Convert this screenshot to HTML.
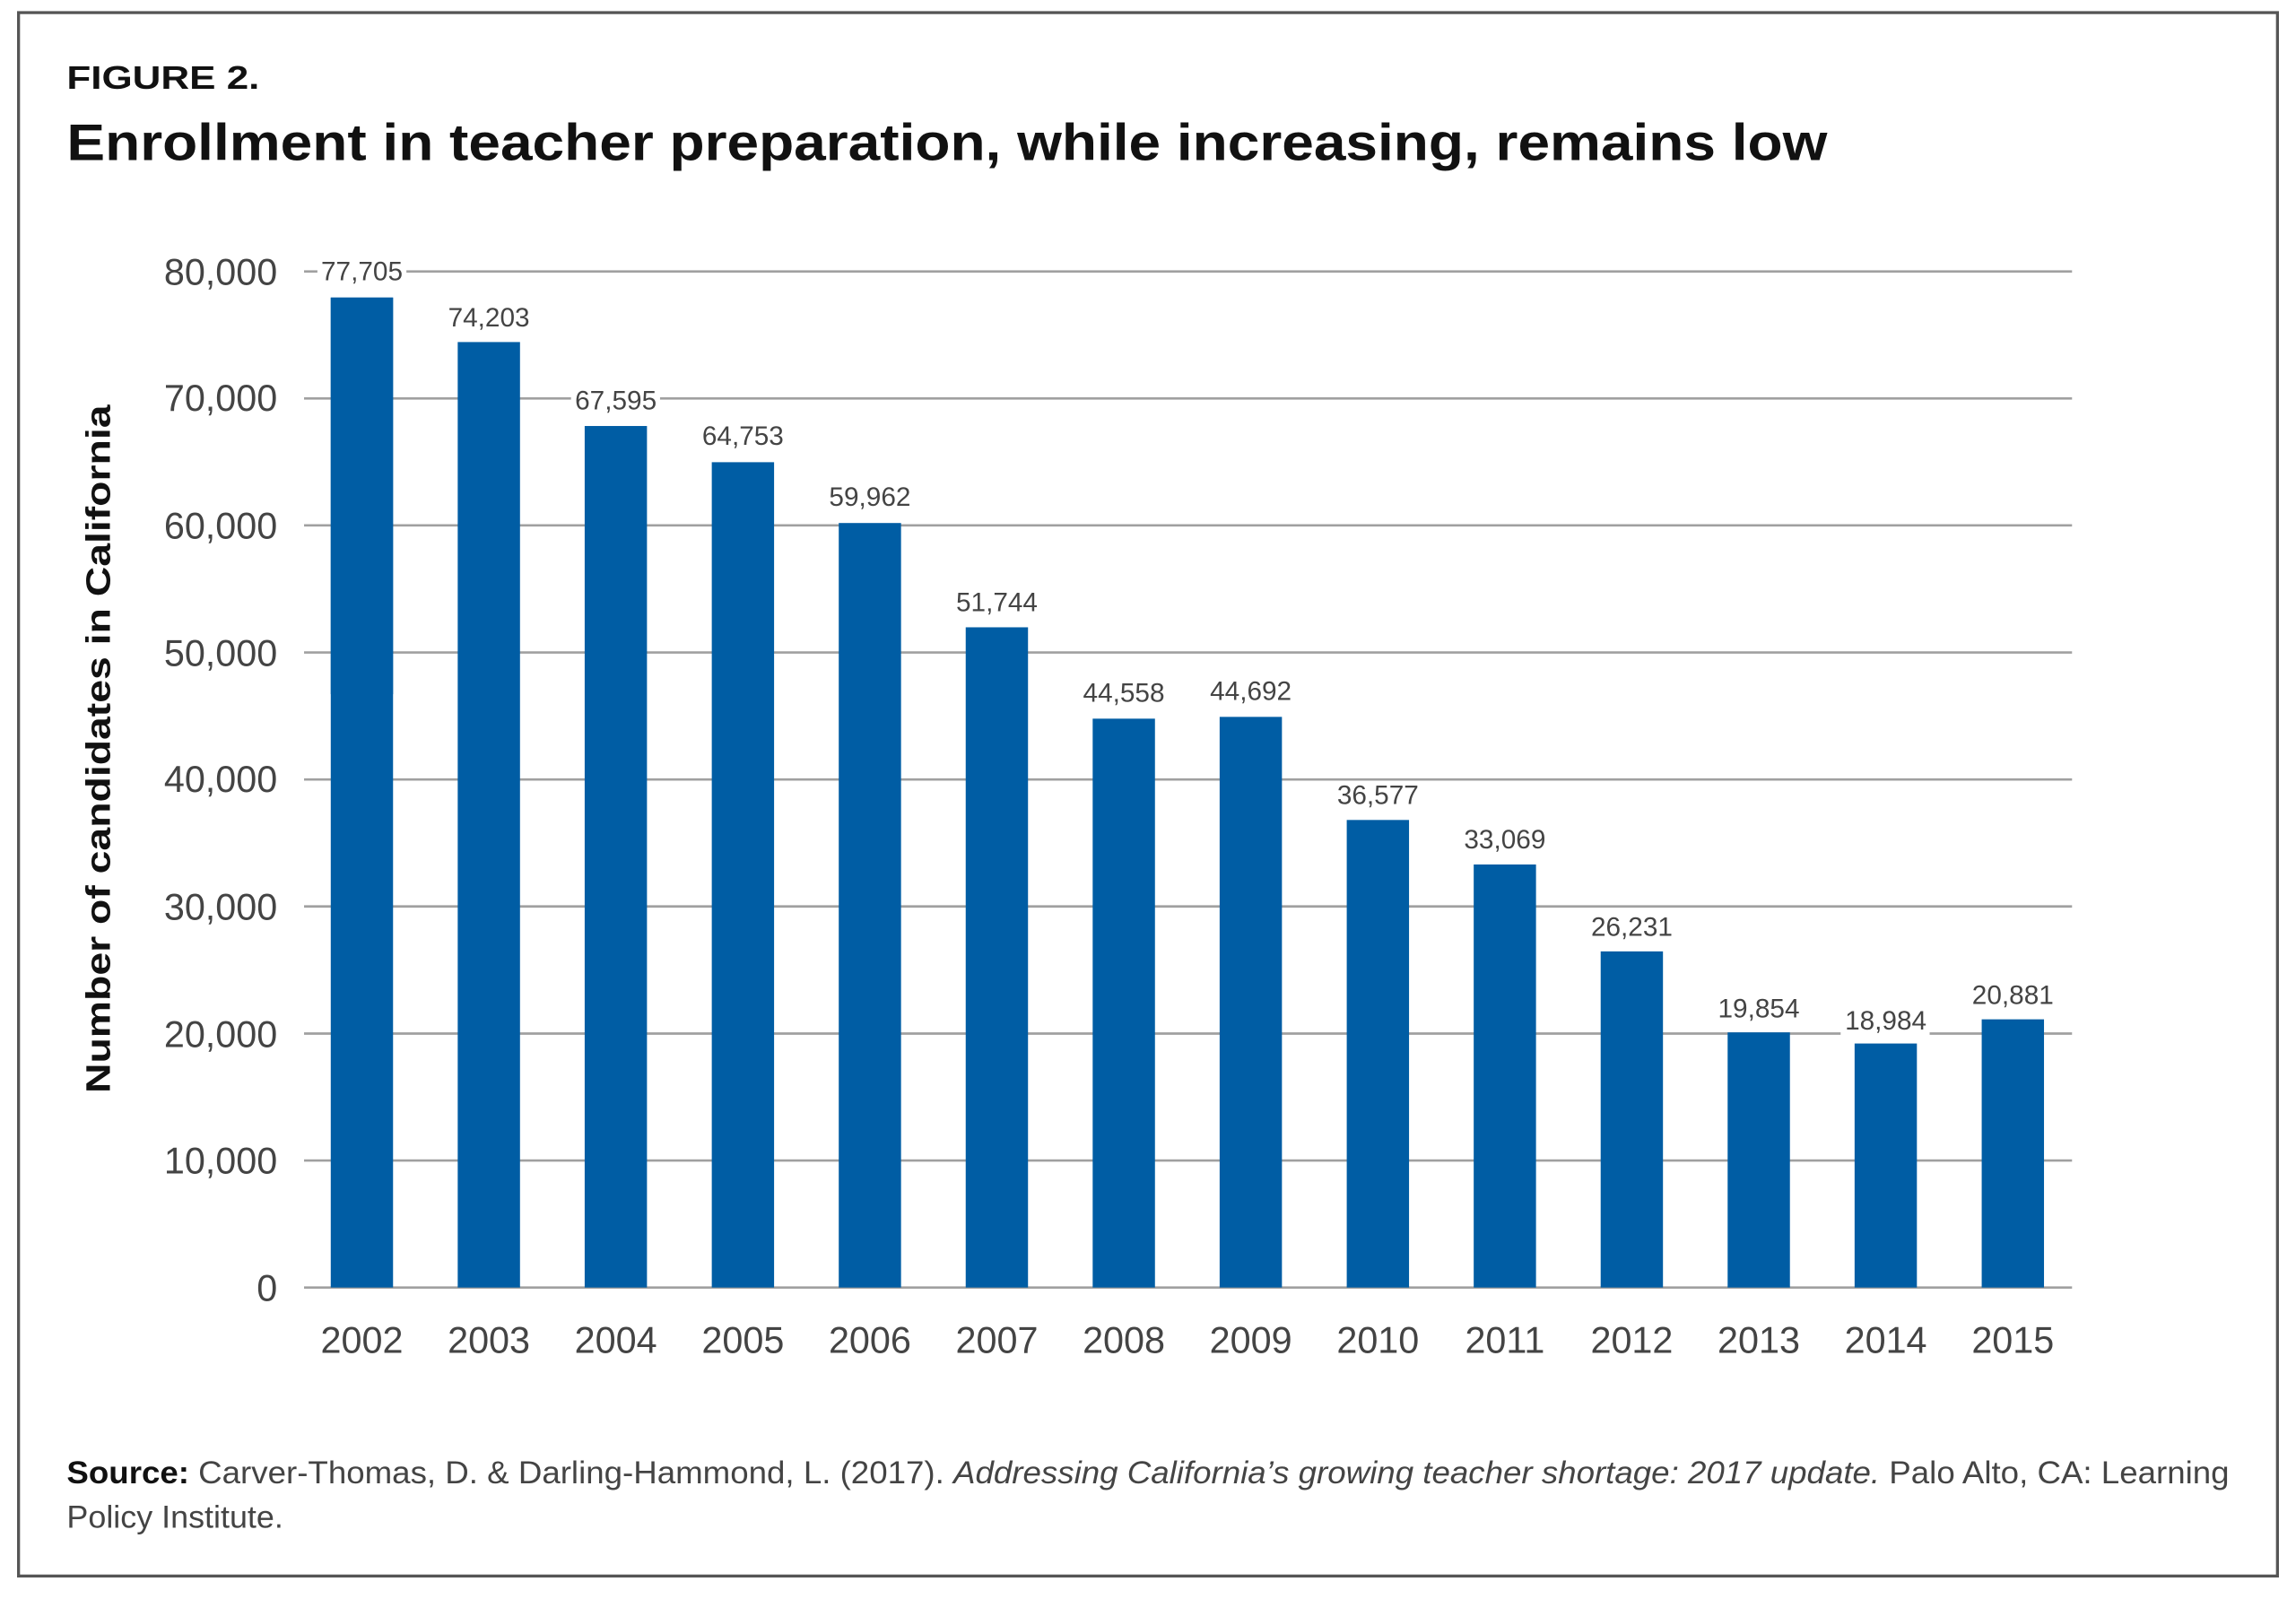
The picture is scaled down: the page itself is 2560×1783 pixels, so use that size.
<!DOCTYPE html>
<html><head><meta charset="utf-8"><style>
html,body{margin:0;padding:0;background:#fff;width:2560px;height:1783px;overflow:hidden}
svg{display:block}
text{font-family:"Liberation Sans",sans-serif}
</style></head><body>
<svg width="2560" height="1783" viewBox="0 0 1548 1078" preserveAspectRatio="none" xmlns="http://www.w3.org/2000/svg">
<rect x="0" y="0" width="1548" height="1078" fill="#fff"/>
<rect x="12.5" y="8.5" width="1523" height="1054" fill="none" stroke="#555" stroke-width="2"/>
<text x="45" y="60" font-size="22" font-weight="bold" fill="#111" textLength="130" lengthAdjust="spacingAndGlyphs">FIGURE 2.</text>
<text x="45" y="108" font-size="35" font-weight="bold" fill="#111" textLength="1187" lengthAdjust="spacingAndGlyphs">Enrollment in teacher preparation, while increasing, remains low</text>
<g stroke="#a0a0a0" stroke-width="1.6">
<line x1="205" x2="1397" y1="868" y2="868"/>
<line x1="205" x2="1397" y1="782.4" y2="782.4"/>
<line x1="205" x2="1397" y1="696.8" y2="696.8"/>
<line x1="205" x2="1397" y1="611.1" y2="611.1"/>
<line x1="205" x2="1397" y1="525.5" y2="525.5"/>
<line x1="205" x2="1397" y1="439.9" y2="439.9"/>
<line x1="205" x2="1397" y1="354.2" y2="354.2"/>
<line x1="205" x2="1397" y1="268.6" y2="268.6"/>
<line x1="205" x2="1397" y1="183" y2="183"/>
</g>
<g font-size="25" fill="#444" text-anchor="end">
<text x="187" y="877">0</text>
<text x="187" y="791">10,000</text>
<text x="187" y="706">20,000</text>
<text x="187" y="620">30,000</text>
<text x="187" y="534">40,000</text>
<text x="187" y="449">50,000</text>
<text x="187" y="363">60,000</text>
<text x="187" y="277">70,000</text>
<text x="187" y="192">80,000</text>
</g>
<g fill="#005da4">
<rect x="223" y="200.6" width="42" height="267.4"/>
<rect x="308.6" y="230.6" width="42" height="637.4"/>
<rect x="394.2" y="287.2" width="42" height="580.8"/>
<rect x="479.9" y="311.6" width="42" height="556.4"/>
<rect x="565.5" y="352.6" width="42" height="515.4"/>
<rect x="651.1" y="422.9" width="42" height="445.1"/>
<rect x="736.7" y="484.5" width="42" height="383.5"/>
<rect x="822.3" y="483.3" width="42" height="384.7"/>
<rect x="908" y="552.8" width="42" height="315.2"/>
<rect x="993.6" y="582.8" width="42" height="285.2"/>
<rect x="1079.2" y="641.4" width="42" height="226.6"/>
<rect x="1164.8" y="696" width="42" height="172"/>
<rect x="1250.4" y="703.5" width="42" height="164.5"/>
<rect x="1336.1" y="687.2" width="42" height="180.8"/>
</g>
<rect x="223" y="200.6" width="42" height="667.4" fill="#005da4"/>
<g font-size="18" fill="#444" text-anchor="middle">
<rect x="214" y="174" width="60" height="18" fill="#fff"/>
<text x="244" y="189">77,705</text>
<text x="329.6" y="220">74,203</text>
<rect x="385" y="260" width="60" height="18" fill="#fff"/>
<text x="415.2" y="276">67,595</text>
<text x="500.9" y="300">64,753</text>
<rect x="556" y="326" width="60" height="18" fill="#fff"/>
<text x="586.5" y="341">59,962</text>
<text x="672.1" y="412">51,744</text>
<text x="757.7" y="473">44,558</text>
<text x="843.3" y="472">44,692</text>
<text x="929" y="542">36,577</text>
<text x="1014.6" y="572">33,069</text>
<text x="1100.2" y="631">26,231</text>
<text x="1185.8" y="686">19,854</text>
<rect x="1241" y="680" width="60" height="18" fill="#fff"/>
<text x="1271.4" y="694">18,984</text>
<text x="1357.1" y="677">20,881</text>
</g>
<g font-size="25" fill="#444" text-anchor="middle">
<text x="244" y="912">2002</text>
<text x="329.6" y="912">2003</text>
<text x="415.2" y="912">2004</text>
<text x="500.9" y="912">2005</text>
<text x="586.5" y="912">2006</text>
<text x="672.1" y="912">2007</text>
<text x="757.7" y="912">2008</text>
<text x="843.3" y="912">2009</text>
<text x="929" y="912">2010</text>
<text x="1014.6" y="912">2011</text>
<text x="1100.2" y="912">2012</text>
<text x="1185.8" y="912">2013</text>
<text x="1271.4" y="912">2014</text>
<text x="1357.1" y="912">2015</text>
</g>
<text transform="translate(74,505) rotate(-90)" font-size="23" font-weight="bold" fill="#111" text-anchor="middle" textLength="464" lengthAdjust="spacingAndGlyphs">Number of candidates in California</text>
<text x="45" y="1000" font-size="21" fill="#444" textLength="1458" lengthAdjust="spacingAndGlyphs"><tspan font-weight="bold" fill="#111">Source:</tspan> Carver-Thomas, D. &amp; Darling-Hammond, L. (2017). <tspan font-style="italic">Addressing California’s growing teacher shortage: 2017 update.</tspan> Palo Alto, CA: Learning</text>
<text x="45" y="1030" font-size="21" fill="#444" textLength="146" lengthAdjust="spacingAndGlyphs">Policy Institute.</text>
</svg>
</body></html>
